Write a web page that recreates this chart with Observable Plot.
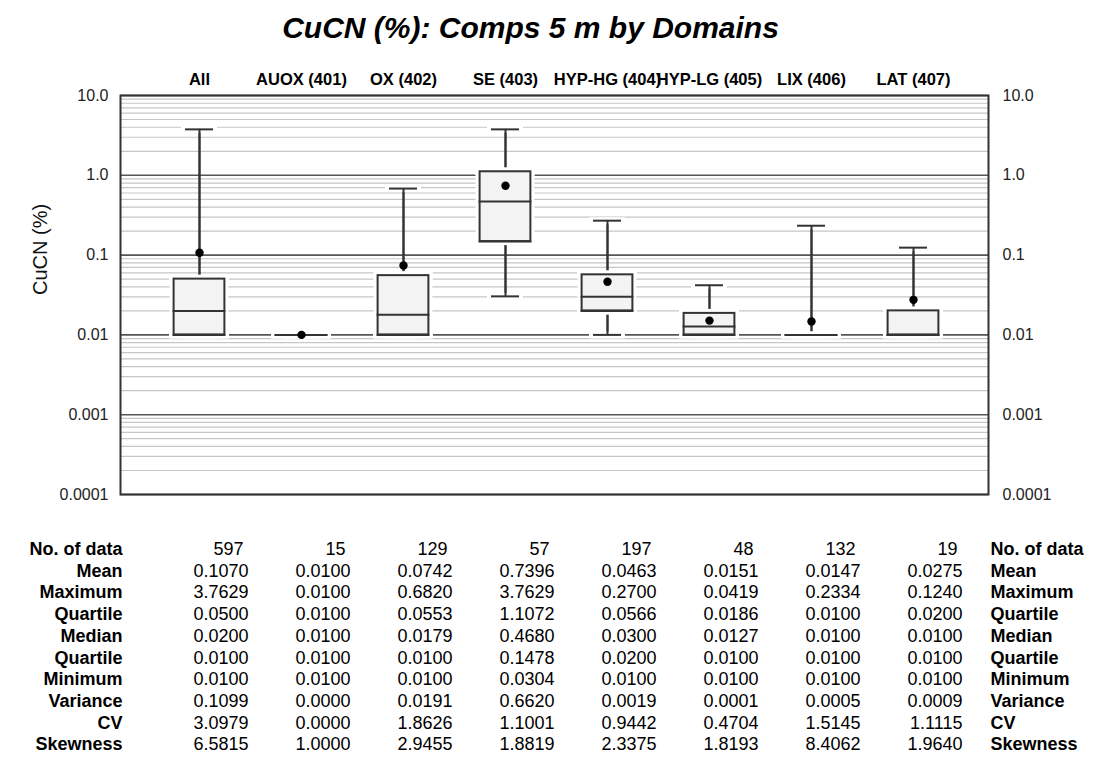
<!DOCTYPE html>
<html>
<head>
<meta charset="utf-8">
<script src="https://cdn.jsdelivr.net/npm/d3@7"></script>
<script src="https://cdn.jsdelivr.net/npm/@observablehq/plot@0.6"></script>
<style>
  html, body { margin: 0; padding: 0; background: #fff; }
  #chart svg { display: block; }
  g[aria-label="table values"] text { letter-spacing: 1.3px; }
  g[aria-label="table counts"] text { letter-spacing: 1.3px; }
  g[aria-label="row labels"] text { letter-spacing: 0.2px; }
</style>
</head>
<body>
<div id="chart"></div>
<script>
// Domains and summary statistics of CuCN (%) in 5 m composites
const domains = ["All", "AUOX (401)", "OX (402)", "SE (403)", "HYP-HG (404)", "HYP-LG (405)", "LIX (406)", "LAT (407)"];
const counts = [597, 15, 129, 57, 197, 48, 132, 19];
const means = [0.1070, 0.0100, 0.0742, 0.7396, 0.0463, 0.0151, 0.0147, 0.0275];
const maxima = [3.7629, 0.0100, 0.6820, 3.7629, 0.2700, 0.0419, 0.2334, 0.1240];
const upperQuartiles = [0.0500, 0.0100, 0.0553, 1.1072, 0.0566, 0.0186, 0.0100, 0.0200];
const medians = [0.0200, 0.0100, 0.0179, 0.4680, 0.0300, 0.0127, 0.0100, 0.0100];
const lowerQuartiles = [0.0100, 0.0100, 0.0100, 0.1478, 0.0200, 0.0100, 0.0100, 0.0100];
const minima = [0.0100, 0.0100, 0.0100, 0.0304, 0.0100, 0.0100, 0.0100, 0.0100];
const variances = [0.1099, 0.0000, 0.0191, 0.6620, 0.0019, 0.0001, 0.0005, 0.0009];
const cvs = [3.0979, 0.0000, 1.8626, 1.1001, 0.9442, 0.4704, 1.5145, 1.1115];
const skewness = [6.5815, 1.0000, 2.9455, 1.8819, 2.3375, 1.8193, 8.4062, 1.9640];

const rowLabels = ["No. of data", "Mean", "Maximum", "Quartile", "Median", "Quartile", "Minimum", "Variance", "CV", "Skewness"];
const rowValues = [counts, means, maxima, upperQuartiles, medians, lowerQuartiles, minima, variances, cvs, skewness];

const yTicks = [10, 1, 0.1, 0.01, 0.001, 0.0001];
const yTickLabels = ["10.0", "1.0", "0.1", "0.01", "0.001", "0.0001"];

const stats = domains.map((domain, i) => ({
  domain,
  min: minima[i], q1: lowerQuartiles[i], median: medians[i],
  q3: upperQuartiles[i], max: maxima[i], mean: means[i]
}));

// log grid: decades drawn dark, intermediate steps light
const logTicks = d3.scaleLog().domain([1e-4, 10]).ticks();
const isDecade = t => Math.abs(Math.log10(t) - Math.round(Math.log10(t))) < 1e-9;
const minorTicks = logTicks.filter(t => !isDecade(t));
const decadeTicks = logTicks.filter(isDecade);

const font = "'Liberation Sans', Arial, Helvetica, sans-serif";
const ink = "#333";
const rowPitch = 21.7;
const tableTop = 60.5;

const tableMarks = [];
rowLabels.forEach((label, r) => {
  const dy = tableTop + r * rowPitch;
  const values = rowValues[r];
  tableMarks.push(
    Plot.text([label], {frameAnchor: "bottom-left", text: d => d, textAnchor: "end", dx: 2, dy,
      fontSize: 18, fontWeight: "bold", fill: "#000", ariaLabel: "row labels"}),
    Plot.text([label], {frameAnchor: "bottom-right", text: d => d, textAnchor: "start", dx: 2, dy,
      fontSize: 18, fontWeight: "bold", fill: "#000", ariaLabel: "row labels"}),
    Plot.text(domains, {
      x: d => d,
      text: (d, i) => r === 0 ? String(values[i]) : values[i].toFixed(4),
      frameAnchor: "bottom", textAnchor: "end", dx: r === 0 ? 44 : 49, dy,
      fontSize: 18, fill: "#000", ariaLabel: r === 0 ? "table counts" : "table values"
    })
  );
});

const chart = Plot.plot({
  width: 1094,
  height: 759,
  marginTop: 95,
  marginBottom: 265,
  marginLeft: 120,
  marginRight: 106,
  style: {fontFamily: font, fontSize: "17px", color: "#000", background: "#fff"},
  x: {type: "band", domain: domains, paddingInner: 0, paddingOuter: 0, insetLeft: 27, insetRight: 23},
  y: {type: "log", domain: [1e-4, 10]},
  marks: [
    Plot.gridY(minorTicks, {stroke: "#c6c6c6", strokeOpacity: 1, strokeWidth: 1.2}),
    Plot.gridY(decadeTicks, {stroke: "#555", strokeOpacity: 1, strokeWidth: 1.6}),

    // whiskers from minimum to maximum
    Plot.ruleX(stats, {x: "domain", y1: "min", y2: "max", stroke: ink, strokeWidth: 2}),
    // caps, with a white halo that breaks the grid lines
    Plot.tickY(stats, {x: "domain", y: "max", insetLeft: 33, insetRight: 33, stroke: "#fff", strokeWidth: 7}),
    Plot.tickY(stats, {x: "domain", y: "min", insetLeft: 33, insetRight: 33, stroke: "#fff", strokeWidth: 7}),
    Plot.tickY(stats, {x: "domain", y: "max", insetLeft: 37, insetRight: 37, stroke: ink, strokeWidth: 2}),
    Plot.tickY(stats, {x: "domain", y: "min", insetLeft: 37, insetRight: 37, stroke: ink, strokeWidth: 2}),
    Plot.ruleX(stats, {x: "domain", y1: "min", y2: "max", stroke: ink, strokeWidth: 2}),

    // interquartile boxes
    Plot.tickY(stats, {x: "domain", y: "q1", insetLeft: 21, insetRight: 21, stroke: "#fff", strokeWidth: 7}),
    Plot.tickY(stats, {x: "domain", y: "q3", insetLeft: 21, insetRight: 21, stroke: "#fff", strokeWidth: 7}),
    Plot.barY(stats, {x: "domain", y1: "q1", y2: "q3", insetLeft: 25.6, insetRight: 25.6,
      fill: "#f3f3f3", stroke: "#fff", strokeWidth: 8}),
    Plot.barY(stats, {x: "domain", y1: "q1", y2: "q3", insetLeft: 25.6, insetRight: 25.6,
      fill: "#f3f3f3", stroke: ink, strokeWidth: 2}),
    Plot.tickY(stats, {x: "domain", y: "q1", insetLeft: 24.6, insetRight: 24.6, stroke: ink, strokeWidth: 2}),
    Plot.tickY(stats, {x: "domain", y: "median", insetLeft: 24.6, insetRight: 24.6, stroke: ink, strokeWidth: 2}),

    // means
    Plot.dot(stats, {x: "domain", y: "mean", r: 4.2, fill: "#000", stroke: null}),

    Plot.frame({stroke: ink, strokeWidth: 2}),

    Plot.axisX({anchor: "top", tickSize: 0, tickPadding: 11, fontWeight: "bold", fontSize: 16.5, label: null}),
    Plot.axisY({anchor: "left", ticks: yTicks, tickFormat: (d, i) => yTickLabels[yTicks.indexOf(d)],
      tickSize: 0, tickPadding: 12, fontSize: 16, label: null, fill: "#222"}),
    Plot.axisY({anchor: "right", ticks: yTicks, tickFormat: (d, i) => yTickLabels[yTicks.indexOf(d)],
      tickSize: 0, tickPadding: 14, fontSize: 16, label: null, fill: "#222"}),

    // y title
    Plot.text(["CuCN (%)"], {frameAnchor: "left", text: d => d, rotate: -90, dx: -80, fontSize: 20, fill: "#111"}),

    // chart title
    Plot.text(["CuCN (%): Comps 5 m by Domains"], {frameAnchor: "top", text: d => d, dx: -24, dy: -79,
      fontSize: 30, fontWeight: "bold", fontStyle: "italic", fill: "#000"}),

    ...tableMarks
  ]
});

document.getElementById("chart").append(chart);
</script>
</body>
</html>
